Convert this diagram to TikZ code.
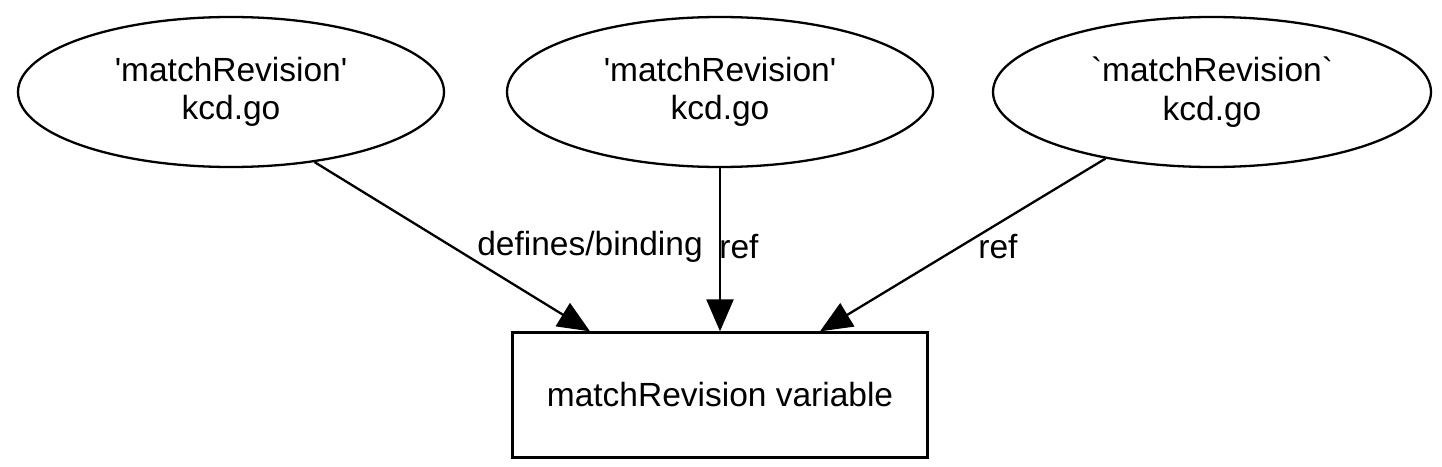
\documentclass[tikz,border=0pt]{standalone}
\usepackage{fontspec}
\setmainfont{Liberation Sans}
\usetikzlibrary{arrows.meta,shapes.geometric}

\begin{document}
\begin{tikzpicture}[x=1pt,y=-1pt,line width=2.3pt,
  every node/.style={font=\fontsize{33.5}{38.5}\selectfont,align=center,inner sep=0pt},
  use/.style={ellipse,draw,minimum width=426pt,minimum height=150pt},
  var/.style={rectangle,draw,minimum width=415pt,minimum height=125pt},
  edge/.style={-{Triangle[length=32pt,width=27pt]}}]
\useasboundingbox (0,0) rectangle (1442,466);
\node[use] at(231,92)(def){\textquotesingle matchRevision\textquotesingle\\kcd.go};
\node[use] at(720,92)(ref1){\textquotesingle matchRevision\textquotesingle\\kcd.go};
\node[use,minimum width=438pt] at(1212,92)(ref2){\textasciigrave matchRevision\textasciigrave\\kcd.go};
\node[var] at(720,395)(v){matchRevision variable};
\node at(590,247)(l1){defines/binding};
\node at(739,247)(l2){ref};
\node at(998,247)(l3){ref};
\path[edge](def.-40)edge([xshift=-130pt]v.north) (ref1)edge(v) (ref2.212)edge([xshift=100pt]v.north);
\end{tikzpicture}
\end{document}
